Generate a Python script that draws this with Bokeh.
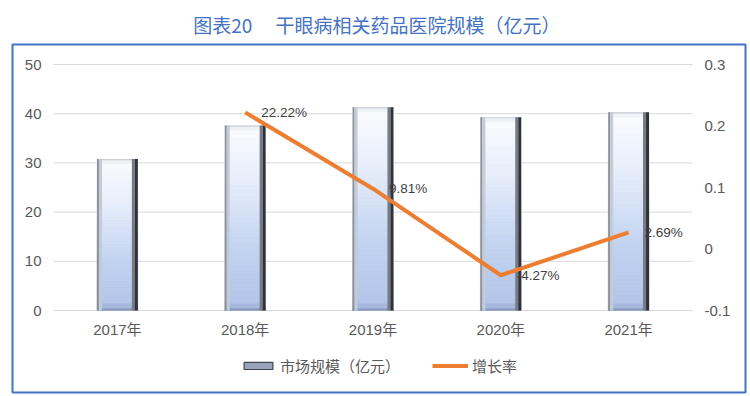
from bokeh.plotting import figure
from bokeh.models import (ColumnDataSource, Range1d, LabelSet, Legend, LegendItem)
from bokeh.core.properties import value
from bokeh.embed import file_html
from bokeh.resources import INLINE

# ---------------- data ----------------
years = ["2017年", "2018年", "2019年", "2020年", "2021年"]
market = [30.8, 37.6, 41.3, 39.3, 40.3]
growth_years = ["2018年", "2019年", "2020年", "2021年"]
growth_pct = [22.22, 9.81, -4.27, 2.69]
left_ticks = [0, 10, 20, 30, 40, 50]
left_tick_labels = ["0", "10", "20", "30", "40", "50"]
right_ticks = [-0.1, 0, 0.1, 0.2, 0.3]
right_tick_labels = ["-0.1", "0", "0.1", "0.2", "0.3"]
title_text = "图表20\u3000  干眼病相关药品医院规模（亿元）"
bar_name = "市场规模（亿元）"
line_name = "增长率"

# ---------------- layout (pixels) ----------------
W, H = 750, 396
box_l, box_r, box_t, box_b = 12, 745, 44, 392       # blue frame box
dat_l, dat_r, dat_t, dat_b = 53, 692, 64, 310       # plotting area inside it

n = len(years)
ymin, ymax = left_ticks[0], left_ticks[-1]
rmin, rmax = right_ticks[0], right_ticks[-1]
pxx = (dat_r - dat_l) / n
pxy = (dat_b - dat_t) / (ymax - ymin)
x0 = -0.5 - (dat_l - box_l) / pxx
x1 = n - 0.5 + (box_r - dat_r) / pxx
y0 = ymin - (box_b - dat_b) / pxy
y1 = ymax + (dat_t - box_t) / pxy
k = (rmax - rmin) / (ymax - ymin)
r0 = rmin + (y0 - ymin) * k
r1 = rmin + (y1 - ymin) * k

p = figure(width=W, height=H, x_range=Range1d(x0, x1), y_range=Range1d(y0, y1),
           output_backend="svg", toolbar_location=None,
           min_border_left=box_l, min_border_right=W - box_r,
           min_border_top=box_t, min_border_bottom=H - box_b)
p.extra_y_ranges = {"right": Range1d(r0, r1)}
p.xaxis.visible = False
p.yaxis.visible = False
p.xgrid.visible = False
p.ygrid.visible = False
p.outline_line_color = "#4472C4"
p.outline_line_width = 2
p.background_fill_color = "white"
p.border_fill_color = "white"

p.title.text = title_text
p.title.align = "center"
p.title.text_font = "Noto Sans CJK SC"
p.title.text_font_size = "19px"
p.title.text_font_style = "normal"
p.title.text_color = "#4472C4"
p.title.standoff = 14

idx = list(range(n))
TICK_FONT = value("Liberation Sans, Noto Sans CJK SC")

# grid lines
p.segment(x0=[-0.5] * len(left_ticks), x1=[n - 0.5] * len(left_ticks),
          y0=left_ticks, y1=left_ticks, line_color="#d9d9d9", line_width=1)

# tick labels
lsrc = ColumnDataSource(dict(x=[-0.5] * len(left_ticks), y=left_ticks, t=left_tick_labels))
p.add_layout(LabelSet(x="x", y="y", text="t", source=lsrc, x_offset=-12,
                      text_align="right", text_baseline="middle", text_font=TICK_FONT,
                      text_font_size="15px", text_color="#595959"))
rsrc = ColumnDataSource(dict(x=[n - 0.5] * len(right_ticks), y=right_ticks, t=right_tick_labels))
p.add_layout(LabelSet(x="x", y="y", text="t", source=rsrc, y_range_name="right", x_offset=12,
                      text_align="left", text_baseline="middle", text_font=TICK_FONT,
                      text_font_size="15px", text_color="#595959"))
xsrc = ColumnDataSource(dict(x=idx, y=[ymin] * n, t=years))
p.add_layout(LabelSet(x="x", y="y", text="t", source=xsrc, y_offset=-19,
                      text_align="center", text_baseline="middle", text_font=TICK_FONT,
                      text_font_size="15px", text_color="#595959"))

# ---------------- bars (bevelled gradient look) ----------------
half = 0.16

def hex2rgb(h):
    h = h.lstrip("#")
    return tuple(int(h[i:i + 2], 16) for i in (0, 2, 4))

def interp(stops, t):
    for (t0, c0), (t1, c1) in zip(stops[:-1], stops[1:]):
        if t0 <= t <= t1:
            f = (t - t0) / (t1 - t0) if t1 > t0 else 0
            a, b = hex2rgb(c0), hex2rgb(c1)
            return "#%02x%02x%02x" % tuple(int(round(a[j] + (b[j] - a[j]) * f)) for j in range(3))
    return stops[-1][1]

body_stops = [(0.0, "#b0c3e9"), (0.35, "#c3d4f1"), (0.7, "#e6edfa"), (1.0, "#fbfcff")]
N = 50
L, R, B, T, C = [], [], [], [], []
for i, v in zip(idx, market):
    for s in range(N):
        L.append(i - half); R.append(i + half)
        B.append(v * s / N); T.append(v * (s + 1) / N)
        C.append(interp(body_stops, (s + 0.5) / N))
p.quad(left=L, right=R, bottom=B, top=T, fill_color=C, line_color=C, line_width=0.8)

ex = lambda px: px / pxx
ey = lambda px: px / pxy
lefts = [i - half for i in idx]
rights = [i + half for i in idx]
zeros = [ymin] * n

# bottom bevel
p.quad(left=lefts, right=rights, bottom=zeros, top=[ey(7)] * n,
       fill_color="#a6b8dd", line_color=None)
p.quad(left=lefts, right=rights, bottom=zeros, top=[ey(2)] * n,
       fill_color="#8797b5", line_color=None)
# top bevel
p.quad(left=lefts, right=rights, bottom=[v - ey(5) for v in market], top=market,
       fill_color="#eef1f6", line_color=None)
p.quad(left=lefts, right=rights, bottom=[v - ey(1.2) for v in market], top=market,
       fill_color="#c9cdd4", line_color=None)
# left edge
p.quad(left=lefts, right=[l + ex(2) for l in lefts], bottom=zeros, top=market,
       fill_color="#8d929b", line_color=None)
p.quad(left=[l + ex(2) for l in lefts], right=[l + ex(5) for l in lefts], bottom=zeros,
       top=market, fill_color="#c6cad2", line_color=None)
# right edge
p.quad(left=[r - ex(6) for r in rights], right=[r - ex(3) for r in rights], bottom=zeros,
       top=market, fill_color="#767b84", line_color=None)
p.quad(left=[r - ex(3) for r in rights], right=rights, bottom=zeros, top=market,
       fill_color="#2f3238", line_color=None)

# legend proxy for bars (degenerate, zero-size quad)
bar_proxy = p.quad(left=[idx[0]], right=[idx[0]], bottom=[ymin], top=[ymin],
                   fill_color="#98a3b8", line_color="#3e4452", line_width=1.2)

# ---------------- growth line ----------------
gx = [years.index(y) for y in growth_years]
gsrc = ColumnDataSource(dict(x=gx, y=[g / 100 for g in growth_pct],
                             lab=["%.2f%%" % g for g in growth_pct]))
line_r = p.line("x", "y", source=gsrc, y_range_name="right",
                line_color="#ED7D31", line_width=4)
p.add_layout(LabelSet(x="x", y="y", text="lab", source=gsrc, y_range_name="right",
                      x_offset=16, text_baseline="middle", text_align="left",
                      text_font=value("Liberation Sans"), text_font_size="13.5px",
                      text_color="#404040"))

# ---------------- legend ----------------
legend = Legend(items=[LegendItem(label=bar_name, renderers=[bar_proxy]),
                       LegendItem(label=line_name, renderers=[line_r])],
                orientation="horizontal", location=(240 - box_l, 16),
                glyph_width=36, glyph_height=9, label_standoff=4, spacing=32,
                padding=0, margin=0, border_line_color=None, background_fill_alpha=0,
                label_text_font="Noto Sans CJK SC", label_text_font_size="15px",
                label_text_color="#595959")
p.add_layout(legend)

open("out.html", "w").write(file_html(p, INLINE))
